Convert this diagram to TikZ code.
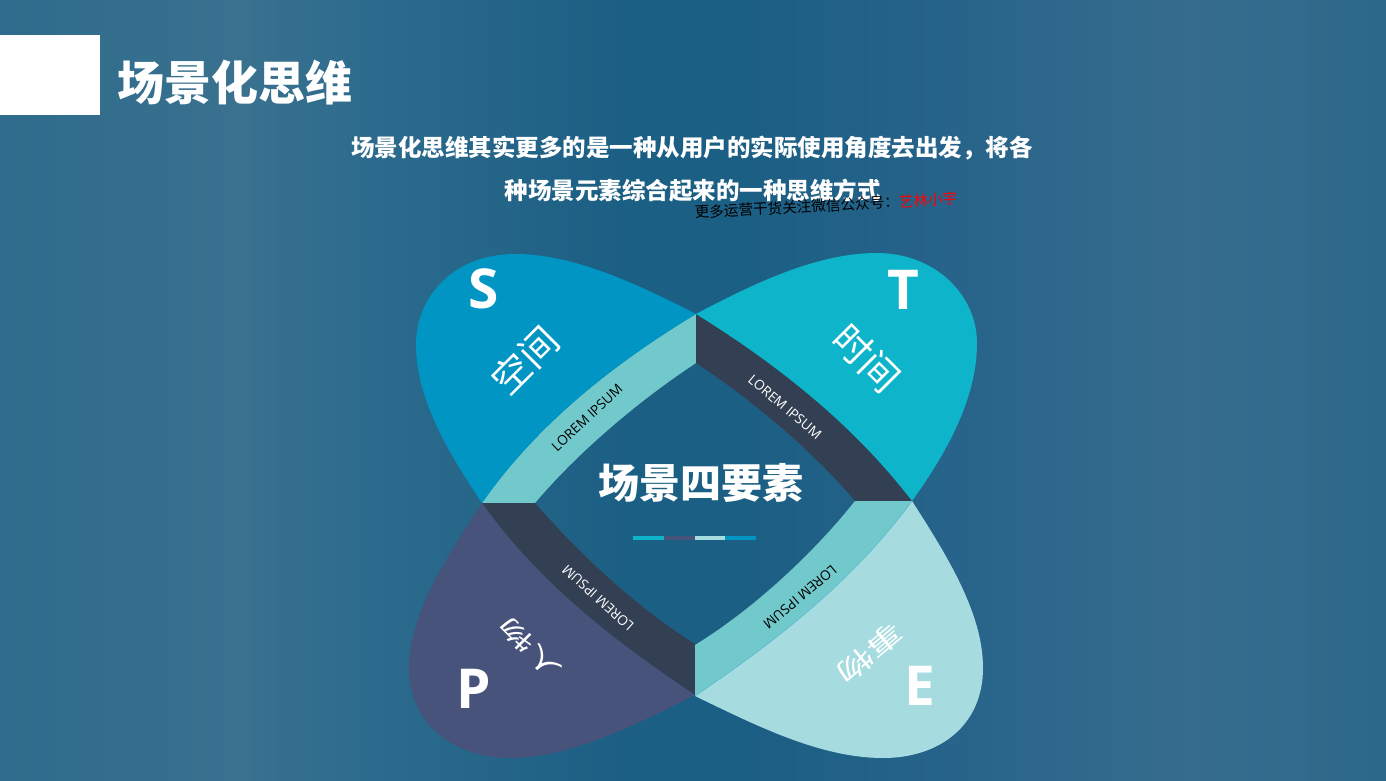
\documentclass[tikz,border=0pt]{standalone}
\usepackage{fontspec}
\setmainfont{Open Sans}
\newfontfamily\cjk{Noto Sans CJK SC}
\newfontfamily\latn{Open Sans}
\definecolor{petalS}{HTML}{0095C3}
\definecolor{petalT}{HTML}{0DB4CA}
\definecolor{petalP}{HTML}{47537A}
\definecolor{petalE}{HTML}{A6DCE0}
\definecolor{bandLight}{HTML}{72C9CC}
\definecolor{bandDark}{HTML}{333F53}
\definecolor{seam}{HTML}{58BBD0}
\pgfdeclarehorizontalshading{slidebg}{100bp}{
  rgb(0bp)=(0.180,0.420,0.549);
  rgb(25bp)=(0.180,0.420,0.549);
  rgb(33.7bp)=(0.227,0.443,0.561);
  rgb(38.3bp)=(0.173,0.420,0.553);
  rgb(47.4bp)=(0.110,0.373,0.518);
  rgb(52.1bp)=(0.110,0.373,0.518);
  rgb(59.3bp)=(0.153,0.388,0.541);
  rgb(67.9bp)=(0.212,0.427,0.557);
  rgb(75bp)=(0.169,0.408,0.541);
  rgb(100bp)=(0.169,0.408,0.541)}
\tikzset{
  txt/.style={inner sep=0pt,outer sep=0pt,text=white,anchor=center},
  head/.style={txt,font=\cjk\bfseries\fontsize{47}{47}\selectfont},
  sub/.style={txt,font=\cjk\bfseries\fontsize{23.5}{23.5}\selectfont},
  centre/.style={txt,font=\cjk\bfseries\fontsize{41}{41}\selectfont},
  letter/.style={txt,font=\latn\bfseries\fontsize{55}{55}\selectfont},
  cjklabel/.style={txt,font=\cjk\fontsize{38}{38}\selectfont},
  lorem/.style={txt,font=\latn\fontsize{13.6}{13.6}\selectfont},
}
\begin{document}
\begin{tikzpicture}[x=1pt,y=-1pt]
\useasboundingbox (0,0) rectangle (1386,781);
\shade[shading=slidebg] (0,0) rectangle (1386,781);
\fill[white] (0,35) rectangle (100,115);

% bands
\fill[bandLight] (482,503) .. controls (540,420) and (620,360) .. (696,314) -- (696,363)
  .. controls (640,400) and (580,450) .. (535,503) -- cycle;
\fill[bandDark] (912,501) .. controls (850,420) and (770,360) .. (696,314) -- (696,363)
  .. controls (752,400) and (812,450) .. (855,501) -- cycle;
\fill[bandDark] (482,503) .. controls (540,585) and (620,645) .. (695,695) -- (695,644)
  .. controls (640,610) and (580,555) .. (535,503) -- cycle;
\fill[bandLight] (912,501) .. controls (850,585) and (770,645) .. (695,696) -- (695,645)
  .. controls (752,610) and (812,555) .. (855,501) -- cycle;

% petals
\fill[petalS] (696,314) .. controls (630,280) and (570,254) .. (515,254)
  .. controls (455,254) and (416,295) .. (416,345)
  .. controls (416,400) and (450,455) .. (482,503)
  .. controls (540,420) and (620,360) .. (696,314) -- cycle;
\fill[petalT] (696,314) .. controls (760,280) and (820,253) .. (877,253)
  .. controls (935,253) and (977,295) .. (977,343)
  .. controls (977,400) and (945,455) .. (912,501)
  .. controls (850,420) and (770,360) .. (696,314) -- cycle;
\fill[petalP] (482,503) .. controls (445,560) and (409,615) .. (409,668)
  .. controls (409,725) and (455,758) .. (510,758)
  .. controls (570,758) and (635,725) .. (695,695)
  .. controls (620,645) and (540,585) .. (482,503) -- cycle;
\fill[petalE] (912,501) .. controls (950,560) and (983,615) .. (983,668)
  .. controls (983,725) and (940,758) .. (883,758)
  .. controls (820,758) and (755,725) .. (695,696)
  .. controls (770,645) and (850,585) .. (912,501) -- cycle;
\draw[seam,line width=.6pt] (695,696) .. controls (770,645) and (850,585) .. (912,501);

% centre bars
\fill[petalT] (633,535.7) rectangle (664,539.7);
\fill[petalP] (664,535.7) rectangle (695,539.7);
\fill[petalE] (695,535.7) rectangle (725,539.7);
\fill[petalS] (725,535.7) rectangle (756,539.7);

% texts
\node[head] (title) at (235,83) {场景化思维};
\node[sub] (sub1) at (692,148) {场景化思维其实更多的是一种从用户的实际使用角度去出发，将各};
\node[sub] (sub2) at (692.5,191) {种场景元素综合起来的一种思维方式};
\node[txt,text=black,rotate=3,font=\cjk\fontsize{14.6}{14.6}\selectfont] (note) at (826,205.5)
  {更多运营干货关注微信公众号：\textcolor{red}{艺林小宇}};
\node[centre] (centre) at (701,482.5) {场景四要素};

\node[letter] (s) at (484,289) {S};
\node[letter] (t) at (903,290) {T};
\node[letter] (p) at (473.5,689) {P};
\node[letter] (e) at (920,686) {E};

\node[cjklabel,rotate=45] (space) at (525,360) {空间};
\node[cjklabel,rotate=-45] (time) at (867,358) {时间};
\node[cjklabel,rotate=135] (people) at (530,649) {\scalebox{1}[.6]{人物}};
\node[cjklabel,rotate=-140] (thing) at (870,653) {\scalebox{1}[.7]{事物}};

\node[lorem,text=black,rotate=43] (l1) at (587,418) {LOREM IPSUM};
\node[lorem,rotate=-40] (l2) at (785,407) {LOREM IPSUM};
\node[lorem,rotate=138] (l3) at (598,598) {LOREM IPSUM};
\node[lorem,text=black,rotate=-140] (l4) at (800,597) {LOREM IPSUM};
\end{tikzpicture}
\end{document}
